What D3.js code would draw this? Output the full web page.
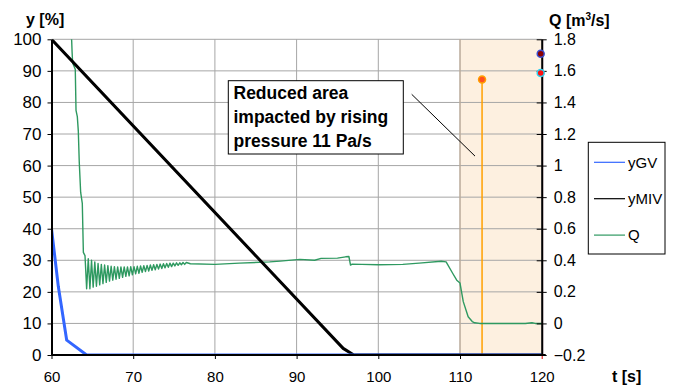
<!DOCTYPE html>
<html>
<head>
<meta charset="utf-8">
<script src="https://cdn.jsdelivr.net/npm/d3@7"></script>
<style>
  body { margin: 0; background: #fff; }
  svg text { font-family: "Liberation Sans", Arial, sans-serif; }
</style>
</head>
<body>
<svg id="chart" width="675" height="389"></svg>
<script>
// data
var xTicks = [60, 70, 80, 90, 100, 110, 120];
var yTicks = [0, 10, 20, 30, 40, 50, 60, 70, 80, 90, 100];
var qTicks = [-0.2, 0, 0.2, 0.4, 0.6, 0.8, 1, 1.2, 1.4, 1.6, 1.8];

var gvTime = [60, 60.84, 61.86, 64.3, 120];
var gvPos = [40, 21.6, 4.7, 0, 0];

var mivTime = [60, 95.7, 97.0, 120];
var mivPos = [100, 2.1, 0, 0];

var qTime = [62.38, 62.47, 62.52, 62.59, 62.91, 63.0, 63.16, 63.28, 63.4, 63.57, 63.77, 63.9,
  64.1, 64.3, 64.5, 64.7, 64.9, 65.1, 65.3, 65.5, 65.7, 65.9, 66.1, 66.3, 66.5, 66.7, 66.9,
  67.1, 67.3, 67.5, 67.7, 67.9, 68.1, 68.3, 68.5, 68.7, 68.9, 69.1, 69.3, 69.5, 69.7, 69.9,
  70.1, 70.3, 70.5, 70.7, 70.9, 71.1, 71.3, 71.5, 71.7, 71.9, 72.1, 72.3, 72.5, 72.7, 72.9,
  73.1, 73.3, 73.5, 73.7, 73.9, 74.1, 74.3, 74.5, 74.7, 74.9, 75.1, 75.3, 75.5, 75.7, 75.9,
  76.1, 76.3, 76.5, 77, 80, 83, 86.7, 88, 90.4, 92.2, 93, 95, 96.0, 96.4, 96.6, 96.8, 98,
  100, 103, 105, 107.7, 108.3, 109.1, 109.6, 110, 110.4, 111, 111.5, 111.8, 112.4, 115, 118,
  118.8, 119.2, 120];
var qFlow = [1.85, 1.79, 1.72, 1.65, 1.61, 1.35, 1.31, 1.22, 1.02, 0.83, 0.76, 0.45,
  0.43, 0.22, 0.41, 0.22, 0.40, 0.23, 0.39, 0.236, 0.38, 0.244, 0.374, 0.252, 0.37, 0.26, 0.366,
  0.268, 0.362, 0.274, 0.36, 0.28, 0.358, 0.286, 0.358, 0.292, 0.358, 0.298, 0.358, 0.302, 0.36, 0.308,
  0.36, 0.314, 0.362, 0.318, 0.364, 0.324, 0.366, 0.328, 0.368, 0.332, 0.37, 0.336, 0.372, 0.34, 0.374,
  0.344, 0.376, 0.348, 0.378, 0.352, 0.38, 0.356, 0.382, 0.36, 0.382, 0.364, 0.384, 0.368, 0.384, 0.372,
  0.386, 0.374, 0.386, 0.378, 0.374, 0.382, 0.39, 0.395, 0.406, 0.40, 0.412, 0.414, 0.422, 0.424, 0.37, 0.376, 0.374,
  0.372, 0.374, 0.382, 0.394, 0.39, 0.318, 0.274, 0.256, 0.138, 0.042, 0.012, 0.004, 0, 0, 0,
  0.004, 0, 0];

var zoneTime = [110, 120];
var markTime = 112.7, markFlow = 1.545;
var edgeFlow = [1.709, 1.587];

var seriesNames = ["yGV", "yMIV", "Q"];
var seriesColors = ["#3366ff", "#000000", "#2e9960"];
var noteLines = ["Reduced area", "impacted by rising", "pressure 11 Pa/s"];

var svg = d3.select("#chart");

var x = d3.scaleLinear().domain([60, 120]).range([51.5, 541.7]);
var y = d3.scaleLinear().domain([0, 100]).range([355, 39.3]);
var q = d3.scaleLinear().domain([-0.2, 1.8]).range([355, 39.3]);

svg.append("defs").append("clipPath").attr("id", "plot")
  .append("rect").attr("x", x(60)).attr("y", y(100)).attr("width", x(120) - x(60)).attr("height", y(0) - y(100));

// shaded zone
svg.append("rect")
  .attr("x", x(zoneTime[0])).attr("y", y(100))
  .attr("width", x(zoneTime[1]) - x(zoneTime[0])).attr("height", y(0) - y(100))
  .attr("fill", "#fdf0e0");

// grid
svg.append("g").selectAll("line").data(yTicks.filter(function(d) { return d > 0; }))
  .enter().append("line")
  .attr("x1", x(60)).attr("x2", x(120))
  .attr("y1", function(d) { return y(d); }).attr("y2", function(d) { return y(d); })
  .attr("stroke", "#a6a6a6").attr("stroke-width", 1);
svg.append("g").selectAll("line").data(xTicks.filter(function(d) { return d > 60 && d < 120; }))
  .enter().append("line")
  .attr("x1", function(d) { return x(d); }).attr("x2", function(d) { return x(d); })
  .attr("y1", y(100)).attr("y2", y(0))
  .attr("stroke", function(d) { return d === zoneTime[0] ? "#b9aa9a" : "#a6a6a6"; })
  .attr("stroke-width", function(d) { return d === zoneTime[0] ? 1.5 : 1; });

// edge of zone at 120
svg.append("line")
  .attr("x1", x(120) + 1).attr("x2", x(120) + 1).attr("y1", y(100)).attr("y2", y(0))
  .attr("stroke", "#b08090").attr("stroke-width", 1);

// orange marker and drop line
svg.append("line")
  .attr("x1", x(markTime)).attr("x2", x(markTime))
  .attr("y1", q(markFlow)).attr("y2", y(0))
  .attr("stroke", "#ffa000").attr("stroke-width", 1.5);

// series
var plot = svg.append("g").attr("clip-path", "url(#plot)");
var lineY = d3.line().x(function(d) { return x(d[0]); }).y(function(d) { return y(d[1]); });
var lineQ = d3.line().x(function(d) { return x(d[0]); }).y(function(d) { return q(d[1]); });

plot.append("path").datum(d3.zip(qTime, qFlow))
  .attr("d", lineQ).attr("fill", "none")
  .attr("stroke", seriesColors[2]).attr("stroke-width", 1.4).attr("stroke-linejoin", "round");
plot.append("path").datum(d3.zip(mivTime, mivPos))
  .attr("d", lineY).attr("fill", "none")
  .attr("stroke", seriesColors[1]).attr("stroke-width", 3).attr("stroke-linejoin", "round");
plot.append("path").datum(d3.zip(gvTime, gvPos))
  .attr("d", lineY).attr("fill", "none")
  .attr("stroke", seriesColors[0]).attr("stroke-width", 3).attr("stroke-linejoin", "round");

// axes
var axL = svg.append("g").attr("transform", "translate(" + x(60) + ",0)")
  .call(d3.axisLeft(y).tickValues(yTicks).tickSize(4).tickSizeOuter(0).tickPadding(6));
axL.selectAll("text").attr("font-size", 17).attr("fill", "#000");

var axB = svg.append("g").attr("transform", "translate(0," + y(0) + ")")
  .call(d3.axisBottom(x).tickValues(xTicks).tickSize(4).tickSizeOuter(0).tickPadding(12));
axB.selectAll("text").attr("font-size", 15).attr("fill", "#000");
axB.select(".domain").attr("d", "M" + x(60) + ",0H" + (x(120) + 4));

var axR = svg.append("g").attr("transform", "translate(" + x(120) + ",0)")
  .call(d3.axisRight(q).tickValues(qTicks).tickSize(5).tickSizeOuter(0).tickPadding(7)
    .tickFormat(function(d) { return d3.format("")(Math.round(d * 10) / 10); }));
axR.selectAll(".tick line").attr("x1", -5);
axR.selectAll("text").attr("font-size", 16).attr("fill", "#000");

[axL, axB, axR].forEach(function(a) {
  a.select(".domain").attr("stroke", "#000").attr("stroke-width", 2);
  a.selectAll(".tick line").attr("stroke", "#000");
});
axB.selectAll(".tick line").filter(function(d) { return d === 120; }).attr("stroke", "#e00000");

// markers on the right edge
svg.append("circle").attr("cx", x(120) - 1).attr("cy", q(edgeFlow[0])).attr("r", 3.5)
  .attr("fill", "#8b0000").attr("stroke", "#3b4fd0").attr("stroke-width", 1.5);
svg.append("circle").attr("cx", x(120) - 1).attr("cy", q(edgeFlow[1])).attr("r", 3.5)
  .attr("fill", "#ff1010").attr("stroke", "#30d0f0").attr("stroke-width", 1.5);
svg.append("circle").attr("cx", x(markTime)).attr("cy", q(markFlow)).attr("r", 3.5)
  .attr("fill", "#ff5020").attr("stroke", "#ffa000").attr("stroke-width", 1.5);

// axis titles
svg.append("text").attr("x", 26).attr("y", 25).attr("font-size", 16).attr("font-weight", "bold").text("y [%]");
var qt = svg.append("text").attr("x", 549).attr("y", 26).attr("font-size", 16).attr("font-weight", "bold");
qt.append("tspan").text("Q [m");
qt.append("tspan").attr("font-size", 10).attr("dy", -6).text("3");
qt.append("tspan").attr("dy", 6).text("/s]");
svg.append("text").attr("x", 612).attr("y", 382).attr("font-size", 16).attr("font-weight", "bold").text("t [s]");

// annotation
svg.append("line").attr("x1", 411.7).attr("y1", 94.3).attr("x2", x(110) + 15).attr("y2", q(1.06))
  .attr("stroke", "#000").attr("stroke-width", 1);
svg.append("rect").attr("x", 228.3).attr("y", 80.7).attr("width", 175).attr("height", 73.3)
  .attr("fill", "#fff").attr("stroke", "#000").attr("stroke-width", 1);
svg.append("g").selectAll("text").data(noteLines).enter().append("text")
  .attr("x", 233.5).attr("y", function(d, i) { return 99 + i * 24.2; })
  .attr("font-size", 17.5).attr("font-weight", "bold").text(function(d) { return d; });

// legend
var leg = svg.append("g");
leg.append("rect").attr("x", 588.3).attr("y", 142.3).attr("width", 76.7).attr("height", 111.7)
  .attr("fill", "#fff").attr("stroke", "#000").attr("stroke-width", 1);
var item = leg.selectAll("g.item").data(seriesNames).enter().append("g").attr("class", "item")
  .attr("transform", function(d, i) { return "translate(0," + (162.3 + i * 36.4) + ")"; });
item.append("line").attr("x1", 594).attr("x2", 625).attr("stroke-width", 1.2)
  .attr("stroke", function(d, i) { return seriesColors[i]; });
item.append("text").attr("x", 628).attr("dy", "0.35em").attr("font-size", 15).text(function(d) { return d; });
</script>
</body>
</html>
